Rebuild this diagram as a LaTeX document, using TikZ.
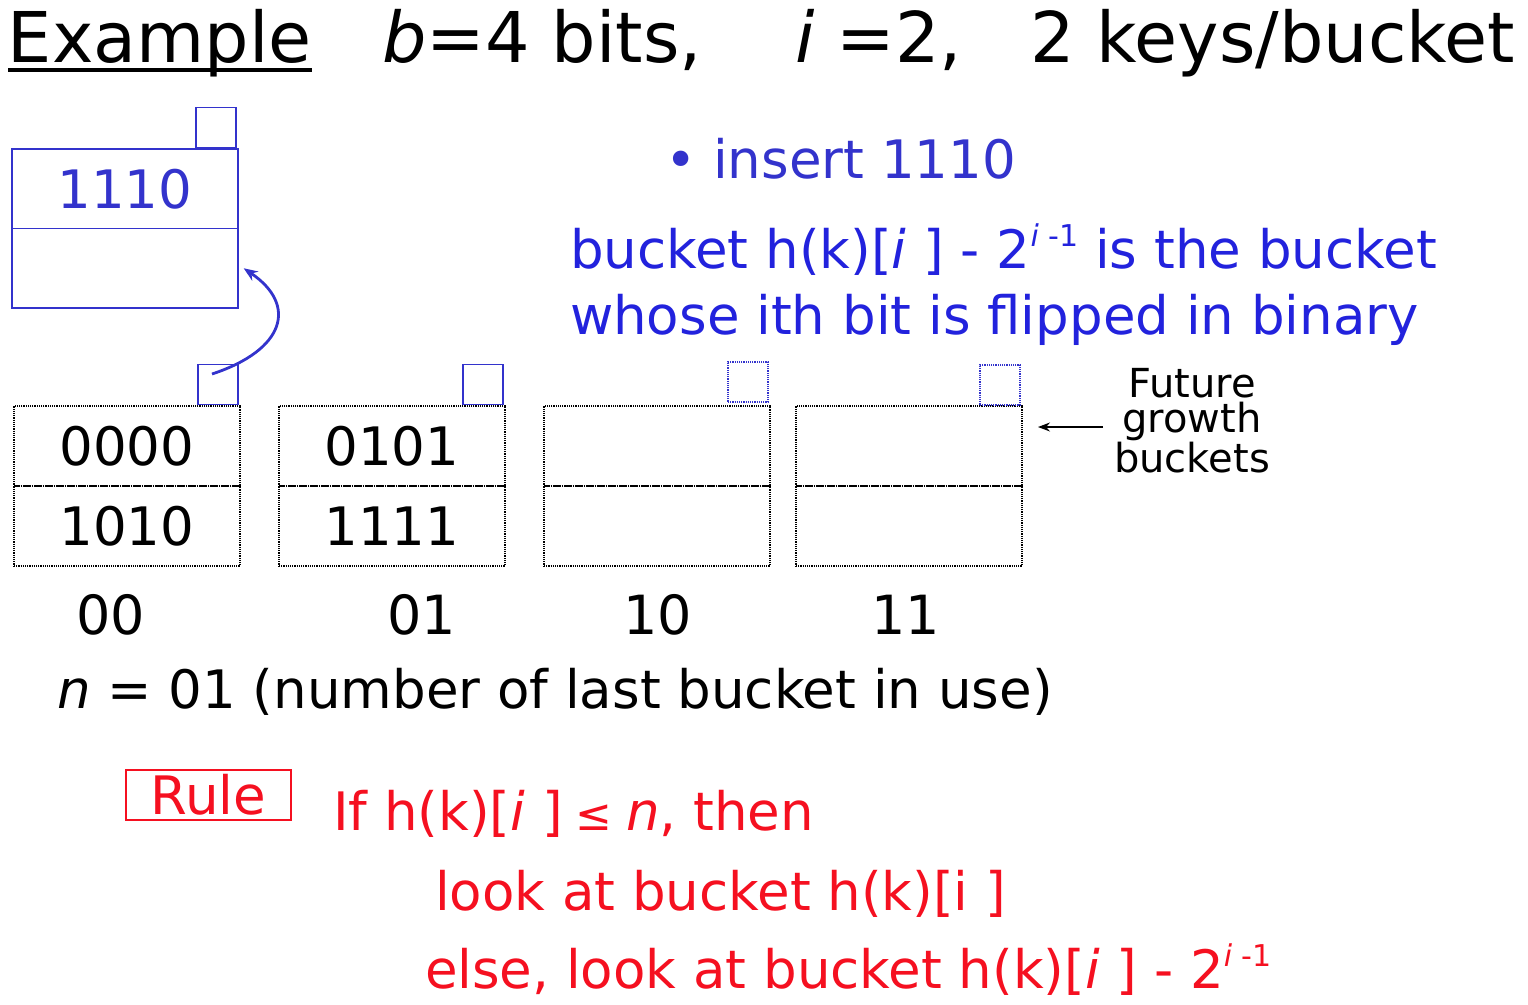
\documentclass[tikz,border=0pt]{standalone}
\usepackage{fontspec}
\setmainfont{DejaVu Sans}
\usetikzlibrary{arrows.meta}
\definecolor{blueA}{RGB}{51,51,204}
\definecolor{blueB}{RGB}{34,34,221}
\definecolor{redA}{RGB}{245,16,32}
\newcommand\supr[1]{\raisebox{0.4em}{\fontsize{30}{30}\selectfont #1}}
\begin{document}
\begin{tikzpicture}[x=1pt,y=-1pt,
  txt/.style={anchor=base west,inner sep=0pt,outer sep=0pt},
  big/.style={font=\fontsize{70}{80}\selectfont},
  mid/.style={font=\fontsize{53}{62}\selectfont},
  slot/.style={draw,densely dotted,line width=1.2pt,minimum width=226pt,minimum height=80pt,inner sep=0pt,font=\fontsize{53}{62}\selectfont},
  bslot/.style={draw=blueA,line width=1.3pt,minimum width=226pt,minimum height=79.5pt,inner sep=0pt,font=\fontsize{53}{62}\selectfont,text=blueA},
  sq/.style={draw=blueA,line width=1.3pt,minimum width=40pt,minimum height=40pt,inner sep=0pt},
  dsq/.style={draw=blueA,densely dotted,line width=1.2pt,minimum width=40pt,minimum height=40pt,inner sep=0pt},
  lab/.style={anchor=base,inner sep=0pt,font=\fontsize{54}{62}\selectfont}]
\useasboundingbox (0,0) rectangle (1528,1004);
% title
\node[txt,big] (t1) at (8,62) {Example};
\draw[line width=3.2pt] ([yshift=-8pt]t1.base west) -- ([yshift=-8pt]t1.base east);
\node[txt,big] (t2) at (382,62) {\textit{b}=4 bits,};
\node[txt,big] (t3) at (795,62) {\textit{i} =2,};
\node[txt,big] (t4) at (1030,62) {2 keys/bucket};
% top blue bucket
\node[bslot] (tb1) at (125,188.75) {1110};
\node[bslot] (tb2) at (125,268.25) {};
\node[sq] (tsq) at (216,127.5) {};
% buckets
\node[slot] (b0a) at (127,446) {0000};
\node[slot] (b0b) at (127,526) {1010};
\node[sq] (s0) at (218,384.5) {};
\node[slot] (b1a) at (392,446) {0101};
\node[slot] (b1b) at (392,526) {1111};
\node[sq] (s1) at (483,384.5) {};
\node[slot] (b2a) at (657,446) {};
\node[slot] (b2b) at (657,526) {};
\node[dsq] (s2) at (748,382) {};
\node[slot] (b3a) at (909,446) {};
\node[slot] (b3b) at (909,526) {};
\node[dsq] (s3) at (1000,385) {};
% arrow from bucket 0 to new bucket
\coordinate (as) at (212,374);
\draw[blueA,line width=2.8pt,-{Stealth[length=14pt,width=11pt]}] (as) .. controls (285,350) and (298,305) .. ([xshift=5pt]tb2.east);
% future growth
\node[anchor=north,inner sep=0pt,align=center,font=\fontsize{40}{35.5}\selectfont] (fg) at (1192,368) {Future\\growth\\buckets};
\coordinate (fgs) at (1103,427);
\draw[line width=1.2pt,-{Stealth[length=12pt,width=9pt]}] (fgs) -- (1038,427);
% labels
\node[lab] (l0) at (111,634) {00};
\node[lab] (l1) at (422,634) {01};
\node[lab] (l2) at (658,634) {10};
\node[lab] (l3) at (906,634) {11};
\node[txt,mid] (nn) at (57,708) {\textit{n} = 01 (number of last bucket in use)};
% blue text
\node[txt,mid,text=blueA] (ins) at (665,178) {\textbullet\ insert 1110};
\node[txt,mid,text=blueB] (bk1) at (570,268) {bucket h(k)[\textit{i} ] - 2\supr{\textit{i} -1} is the bucket};
\node[txt,mid,text=blueB] (bk2) at (570,334) {whose ith bit is flipped in binary};
% rule
\node[draw=redA,line width=1.2pt,minimum width=165pt,minimum height=50pt,inner sep=0pt,text=redA,font=\fontsize{53}{62}\selectfont] (rule) at (208.5,795) {Rule};
\node[txt,mid,text=redA] (r1) at (333,830) {If h(k)[\textit{i} ]\hspace{0.25em}{\fontsize{44}{50}\selectfont ≤}\hspace{0.25em}\textit{n}, then};
\node[txt,mid,text=redA] (r2) at (435,910) {look at bucket h(k)[i ]};
\node[txt,mid,text=redA] (r3) at (425,988) {else, look at bucket h(k)[\textit{i} ] - 2\supr{\textit{i} -1}};
\end{tikzpicture}
\end{document}
